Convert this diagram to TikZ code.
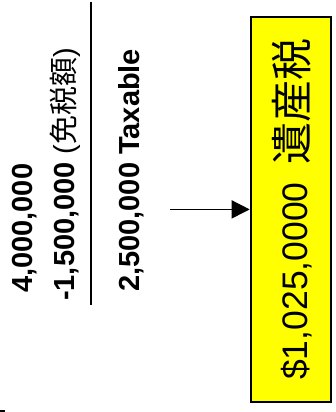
\documentclass[tikz,border=0pt]{standalone}
\usepackage{fontspec}
\setmainfont{Liberation Sans}
\newfontfamily\cjk{Noto Sans CJK JP}
\usetikzlibrary{arrows.meta}
\definecolor{boxyellow}{RGB}{255,255,0}
\begin{document}
\begin{tikzpicture}[x=1pt,y=1pt,
  figure/.style={rotate=90,anchor=base west,inner sep=0pt,
    font=\fontsize{29}{31}\selectfont\bfseries},
  taxbox/.style={draw=black,line width=2pt,fill=boxyellow,
    minimum width=80pt,minimum height=385pt,inner sep=0pt},
  boxlabel/.style={rotate=90,anchor=base west,inner sep=0pt,
    font=\fontsize{35.5}{37}\selectfont},
  pointer/.style={line width=1.6pt,-{Triangle[length=18pt,width=18pt]}}]
\useasboundingbox (0,0) rectangle (336,412);

% subtraction column
\node[figure] (gross) at (32,119) {4,000,000};
\node[figure] (exempt) at (74,111) {-1,500,000 {\mdseries(\cjk 免税額\rmfamily)}};
\draw[line width=2pt] (90.5,410) coordinate (ruletop) -- (90.5,107) coordinate (rulebot);
\node[figure] (taxable) at (139,120) {2,500,000 Taxable};

% result box
\node[taxbox] (box) at (290.7,202.6) {};
\node[boxlabel] (amount) at (307.5,32) {\$1,025,0000\hspace{18pt}{\cjk\fontsize{42}{44}\selectfont 遺産税}};

\coordinate (arrstart) at (170,202.6);
\draw[pointer] (arrstart) -- (box.west);

% clipped rule end at the lower left edge
\fill[black] (0,0) rectangle (5,2);
\end{tikzpicture}
\end{document}
